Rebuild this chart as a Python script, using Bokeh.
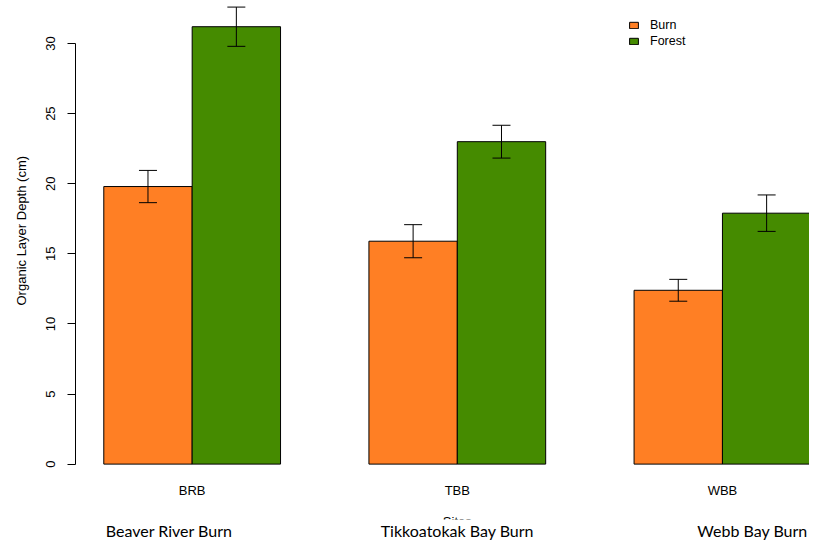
from bokeh.plotting import figure
from bokeh.models import (ColumnDataSource, Whisker, TeeHead, Legend, LegendItem,
                          FixedTicker, Range1d, Title)
from bokeh.core.properties import value
from bokeh.embed import file_html
from bokeh.resources import INLINE

# ---- data ----
sites = ["BRB", "TBB", "WBB"]
site_names = ["Beaver River Burn", "Tikkoatokak Bay Burn", "Webb Bay Burn"]
burn = [19.8, 15.9, 12.4]
forest = [31.2, 23.0, 17.9]
burn_se = [1.15, 1.18, 0.78]
forest_se = [1.4, 1.17, 1.3]
y_ticks = [0, 5, 10, 15, 20, 25, 30]

# ---- layout constants (not data) ----
BURN_COLOR = "#FF7F24"
FOREST_COLOR = "#458B00"
name_label_pos = [1.74, 5.0, 8.34]   # where the free text boxes sit under the plot
cat_label_y = -1.85                  # baseline of the category labels
sites_title_y = -3.55                # top of the (mostly hidden) "Sites" title

centers = [3 * i + 2 for i in range(len(sites))]
burn_x = [c - 0.5 for c in centers]
forest_x = [c + 0.5 for c in centers]

src_burn = ColumnDataSource(dict(x=burn_x, top=burn,
                                 lo=[v - e for v, e in zip(burn, burn_se)],
                                 hi=[v + e for v, e in zip(burn, burn_se)]))
src_forest = ColumnDataSource(dict(x=forest_x, top=forest,
                                   lo=[v - e for v, e in zip(forest, forest_se)],
                                   hi=[v + e for v, e in zip(forest, forest_se)]))

p = figure(width=809, height=542, output_backend="svg", toolbar_location=None,
           x_range=Range1d(0.68, 8.985), y_range=Range1d(-3.95, 33.07),
           min_border_left=74, min_border_right=0, min_border_top=0, min_border_bottom=20)
p.outline_line_color = None
p.xgrid.visible = False
p.ygrid.visible = False
p.background_fill_color = "white"

r_burn = p.vbar(x="x", top="top", bottom=0, width=1, source=src_burn,
                fill_color=BURN_COLOR, line_color="black", line_width=1)
r_forest = p.vbar(x="x", top="top", bottom=0, width=1, source=src_forest,
                  fill_color=FOREST_COLOR, line_color="black", line_width=1)

for src in (src_burn, src_forest):
    w = Whisker(base="x", lower="lo", upper="hi", source=src, dimension="height",
                line_color="black", line_width=1, level="overlay",
                upper_head=TeeHead(size=18, line_color="black", line_width=1),
                lower_head=TeeHead(size=18, line_color="black", line_width=1))
    p.add_layout(w)

# category labels under the bars
p.text(x=centers, y=[cat_label_y] * len(centers), text=sites,
       text_align="center", text_baseline="middle",
       text_font=value("Liberation Sans"), text_font_size="13px", text_color="black")

# "Sites" title, clipped by the bottom of the plot frame
p.text(x=[sum(centers) / len(centers)], y=[sites_title_y], text=["Sites"],
       text_align="center", text_baseline="top",
       text_font=value("Liberation Sans"), text_font_size="13px", text_color="black")

# y axis
ya = p.yaxis[0]
ya.ticker = FixedTicker(ticks=y_ticks)
ya.bounds = (0, 30)
ya.minor_tick_line_color = None
ya.major_tick_in = 0
ya.major_tick_out = 8
ya.major_label_orientation = "vertical"
ya.major_label_standoff = 12
ya.major_label_text_font = "Liberation Sans"
ya.major_label_text_font_size = "13px"
ya.major_label_text_color = "black"
ya.axis_line_color = "black"
ya.major_tick_line_color = "black"

p.add_layout(Title(text="Organic Layer Depth (cm)", align="left", offset=214,
                   vertical_align="top", standoff=26,
                   text_font="Liberation Sans", text_font_size="13px",
                   text_font_style="normal", text_color="black"), "left")

# x axis carries the free site-name text boxes
xa = p.xaxis[0]
xa.ticker = FixedTicker(ticks=name_label_pos)
xa.major_label_overrides = {pos: nm for pos, nm in zip(name_label_pos, site_names)}
xa.axis_line_color = None
xa.major_tick_line_color = None
xa.minor_tick_line_color = None
xa.major_tick_out = 0
xa.major_tick_in = 0
xa.major_label_standoff = 1
xa.major_label_text_font = "Lato"
xa.major_label_text_font_size = "16px"
xa.major_label_text_color = "black"

legend = Legend(items=[LegendItem(label="Burn", renderers=[r_burn]),
                       LegendItem(label="Forest", renderers=[r_forest])],
                location=(553, 470), padding=0, margin=0, spacing=0,
                glyph_width=11, glyph_height=8, label_height=16, label_standoff=11,
                label_text_font="Liberation Sans", label_text_font_size="12.5px",
                label_text_color="black", border_line_color=None,
                background_fill_alpha=0)
p.add_layout(legend)

open("out.html", "w").write(file_html(p, INLINE))
